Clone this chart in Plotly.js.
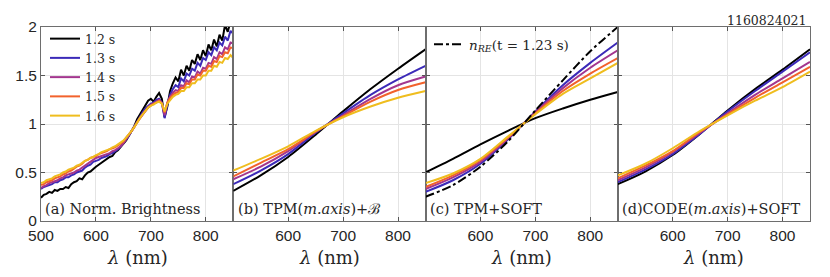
<!DOCTYPE html>
<html>
<head>
<meta charset="utf-8">
<script src="https://cdn.plot.ly/plotly-3.0.1.min.js"></script>
<style>html,body{margin:0;padding:0;background:#fff;}#chart{width:830px;height:277px;}</style>
</head>
<body>
<div id="chart"></div>
<script>
// ---------- DATA ----------
const seriesNames = ['1.2 s', '1.3 s', '1.4 s', '1.5 s', '1.6 s'];
const seriesColors = ['#000000', '#3b2ab8', '#a3368e', '#f2622c', '#efbd1e'];

// (a) normalised brightness spectra, 5 nm sampling
const lamA = [500,505,510,515,520,525,530,535,540,545,550,555,560,565,570,575,580,585,590,595,
  600,605,610,615,620,625,630,635,640,645,650,655,660,665,670,675,680,685,690,695,
  700,705,710,715,720,725,730,735,740,745,750,755,760,765,770,775,780,785,790,795,
  800,805,810,815,820,825,830,835,840,845,850];
const bright12 = [0.24,0.27,0.28,0.30,0.29,0.32,0.31,0.33,0.33,0.35,0.34,0.38,0.40,0.41,0.44,0.43,0.47,0.50,0.51,0.54,
  0.56,0.58,0.60,0.62,0.64,0.66,0.67,0.71,0.73,0.76,0.79,0.83,0.88,0.93,0.98,1.05,1.10,1.14,1.20,1.24,
  1.26,1.23,1.28,1.32,1.26,1.07,1.18,1.34,1.42,1.48,1.44,1.56,1.50,1.60,1.55,1.66,1.62,1.72,1.66,1.76,
  1.70,1.82,1.76,1.87,1.80,1.92,1.86,2.02,1.95,2.06,2.04];
const bright13 = [0.33,0.35,0.36,0.37,0.38,0.40,0.40,0.42,0.43,0.45,0.45,0.47,0.48,0.50,0.51,0.52,0.55,0.57,0.58,0.61,
  0.62,0.63,0.65,0.66,0.67,0.69,0.70,0.72,0.74,0.77,0.80,0.84,0.88,0.93,0.98,1.03,1.07,1.12,1.16,1.19,
  1.21,1.22,1.25,1.26,1.22,1.06,1.20,1.30,1.36,1.40,1.38,1.47,1.44,1.52,1.50,1.57,1.55,1.63,1.60,1.68,
  1.66,1.74,1.71,1.79,1.76,1.84,1.81,1.90,1.86,1.96,1.93];
const bright14 = [0.34,0.36,0.37,0.39,0.40,0.41,0.42,0.44,0.45,0.47,0.48,0.49,0.50,0.52,0.53,0.55,0.57,0.59,0.61,0.63,
  0.65,0.66,0.67,0.68,0.69,0.70,0.72,0.73,0.75,0.77,0.80,0.84,0.88,0.92,0.97,1.02,1.06,1.10,1.14,1.17,
  1.20,1.21,1.23,1.25,1.22,1.09,1.22,1.28,1.32,1.35,1.34,1.40,1.39,1.45,1.43,1.49,1.48,1.54,1.52,1.58,
  1.57,1.63,1.62,1.69,1.67,1.74,1.72,1.79,1.77,1.84,1.83];
const bright15 = [0.37,0.38,0.40,0.41,0.42,0.44,0.45,0.46,0.48,0.49,0.51,0.52,0.54,0.56,0.57,0.59,0.62,0.63,0.65,0.66,
  0.67,0.69,0.70,0.71,0.72,0.74,0.75,0.76,0.78,0.80,0.82,0.86,0.89,0.93,0.97,1.02,1.06,1.10,1.14,1.17,
  1.19,1.21,1.22,1.24,1.21,1.12,1.22,1.27,1.30,1.32,1.33,1.37,1.37,1.42,1.41,1.46,1.46,1.51,1.50,1.55,
  1.55,1.60,1.59,1.65,1.64,1.70,1.69,1.74,1.73,1.79,1.78];
const bright16 = [0.39,0.40,0.42,0.43,0.44,0.46,0.47,0.48,0.50,0.51,0.53,0.54,0.55,0.57,0.58,0.60,0.62,0.63,0.65,0.66,
  0.68,0.69,0.71,0.72,0.73,0.74,0.76,0.77,0.79,0.81,0.83,0.86,0.89,0.93,0.97,1.02,1.06,1.10,1.14,1.17,
  1.19,1.20,1.22,1.23,1.21,1.13,1.21,1.25,1.28,1.30,1.31,1.34,1.34,1.38,1.38,1.42,1.42,1.46,1.46,1.50,
  1.50,1.55,1.55,1.60,1.59,1.64,1.63,1.68,1.67,1.71,1.68];

// fitted curves (b)-(d)
const lamFit = [500,550,600,650,700,750,800,850];
const tpmB12 = [0.31,0.47,0.66,0.89,1.13,1.36,1.57,1.77];
const tpmB13 = [0.38,0.52,0.69,0.91,1.11,1.30,1.46,1.60];
const tpmB14 = [0.43,0.56,0.72,0.92,1.09,1.26,1.40,1.49];
const tpmB15 = [0.46,0.60,0.74,0.92,1.08,1.23,1.35,1.43];
const tpmB16 = [0.52,0.64,0.77,0.93,1.07,1.18,1.27,1.34];

const tpmSoft12 = [0.50,0.64,0.79,0.93,1.06,1.16,1.25,1.33];
const tpmSoft13 = [0.30,0.42,0.59,0.84,1.13,1.40,1.63,1.84];
const tpmSoft14 = [0.33,0.45,0.61,0.85,1.12,1.37,1.58,1.76];
const tpmSoft15 = [0.35,0.47,0.63,0.86,1.11,1.34,1.52,1.68];
const tpmSoft16 = [0.39,0.49,0.64,0.87,1.10,1.31,1.47,1.63];
const nRE123 = [0.25,0.37,0.56,0.82,1.14,1.45,1.75,2.00];

const code12 = [0.38,0.51,0.68,0.90,1.14,1.36,1.56,1.77];
const code13 = [0.40,0.53,0.69,0.90,1.13,1.34,1.54,1.74];
const code14 = [0.42,0.55,0.71,0.91,1.11,1.30,1.47,1.64];
const code15 = [0.44,0.57,0.72,0.92,1.10,1.27,1.43,1.59];
const code16 = [0.47,0.59,0.75,0.93,1.09,1.24,1.38,1.54];

const panelLabels = ['(a) Norm. Brightness', '(b) TPM(<i>m.axis</i>)+ℬ', '(c) TPM+SOFT', '(d)CODE(<i>m.axis</i>)+SOFT'];
const shotLabel = '1160824021';
const xTitle = '<i>λ</i> (nm)';

// ---------- PLOT ----------
(function () {
  const serif = 'DejaVu Serif';
  const sans = 'Liberation Sans';
  const traces = [];
  const brightSets = [bright12, bright13, bright14, bright15, bright16];
  brightSets.forEach((ys, i) => traces.push({
    x: lamA, y: ys, type: 'scatter', mode: 'lines', name: seriesNames[i],
    line: {color: seriesColors[i], width: 2}, xaxis: 'x', yaxis: 'y', showlegend: true
  }));
  const fitPanels = [
    [[tpmB12, tpmB13, tpmB14, tpmB15, tpmB16], 'x2', 'y2'],
    [[tpmSoft12, tpmSoft13, tpmSoft14, tpmSoft15, tpmSoft16], 'x3', 'y3'],
    [[code12, code13, code14, code15, code16], 'x4', 'y4']
  ];
  fitPanels.forEach(([sets, xa, ya]) => {
    sets.forEach((ys, i) => traces.push({
      x: lamFit, y: ys, type: 'scatter', mode: 'lines', name: seriesNames[i],
      line: {color: seriesColors[i], width: 2, shape: 'spline', smoothing: 0.8},
      xaxis: xa, yaxis: ya, showlegend: false
    }));
    if (xa === 'x3') {
      traces.push({
        x: lamFit, y: nRE123, type: 'scatter', mode: 'lines',
        name: '<i>n</i><sub><i>RE</i></sub>(t = 1.23 s)',
        line: {color: '#000000', width: 2, dash: 'dashdot', shape: 'spline', smoothing: 0.8},
        xaxis: 'x3', yaxis: 'y3', showlegend: true, legend: 'legend2'
      });
    }
  });

  const W = 830, H = 277;
  const pL = 41, pR = 810, pT = 27, pB = 221;
  const pw = (pR - pL) / 4;
  const yDom = [1 - pB / H, 1 - pT / H];

  const layout = {
    width: W, height: H,
    margin: {l: 0, r: 0, t: 0, b: 0},
    paper_bgcolor: '#ffffff', plot_bgcolor: '#ffffff',
    font: {family: sans, color: '#262626', size: 15},
    showlegend: true,
    legend: {
      x: 45 / W, y: 1 - 24 / H, xanchor: 'left', yanchor: 'top',
      bgcolor: 'rgba(0,0,0,0)', borderwidth: 0,
      font: {family: serif, size: 12.5, color: '#262626'}, tracegroupgap: 0
    },
    legend2: {
      x: 429 / W, y: 1 - 29 / H, xanchor: 'left', yanchor: 'top',
      bgcolor: 'rgba(0,0,0,0)', borderwidth: 0,
      font: {family: serif, size: 13.5, color: '#262626'}
    },
    annotations: []
  };

  for (let k = 0; k < 4; k++) {
    const sfx = k === 0 ? '' : String(k + 1);
    const x0 = (pL + k * pw) / W, x1 = (pL + (k + 1) * pw) / W;
    layout['xaxis' + sfx] = {
      domain: [x0, x1], range: [500, 850], anchor: 'y' + sfx,
      tickvals: k === 0 ? [500, 600, 700, 800] : [600, 700, 800],
      ticks: 'inside', ticklen: 4, tickcolor: '#555555',
      showline: true, linecolor: '#6e6e6e', linewidth: 1, mirror: 'ticks',
      showgrid: true, gridcolor: '#e4e4e4', gridwidth: 1, zeroline: false,
      tickfont: {family: sans, size: 15.5, color: '#262626'},
      fixedrange: true
    };
    layout['yaxis' + sfx] = {
      domain: yDom, range: [0, 2], anchor: 'x' + sfx,
      tickvals: [0, 0.5, 1, 1.5, 2], showticklabels: k === 0,
      ticks: 'inside', ticklen: 4, tickcolor: '#555555',
      showline: true, linecolor: '#6e6e6e', linewidth: 1, mirror: 'ticks',
      showgrid: true, gridcolor: '#e4e4e4', gridwidth: 1, zeroline: false,
      tickfont: {family: sans, size: 15.5, color: '#262626'},
      fixedrange: true
    };
    layout.annotations.push({
      text: panelLabels[k], xref: 'x' + sfx + ' domain', yref: 'y' + sfx + ' domain',
      x: 0.012, y: 0.062, xanchor: 'left', yanchor: 'middle', showarrow: false,
      font: {family: serif, size: 14.5, color: '#262626'}
    });
    layout.annotations.push({
      text: xTitle, xref: 'x' + sfx + ' domain', yref: 'paper',
      x: 0.5, y: 1 - 257 / H, xanchor: 'center', yanchor: 'middle', showarrow: false,
      font: {family: serif, size: 18, color: '#262626'}
    });
  }
  layout.annotations.push({
    text: shotLabel, xref: 'paper', yref: 'paper', x: 809 / W, y: 1 - 21 / H,
    xanchor: 'right', yanchor: 'middle', showarrow: false,
    font: {family: serif, size: 12.5, color: '#262626'}
  });

  Plotly.newPlot('chart', traces, layout, {displayModeBar: false, staticPlot: true});
})();
</script>
</body>
</html>
